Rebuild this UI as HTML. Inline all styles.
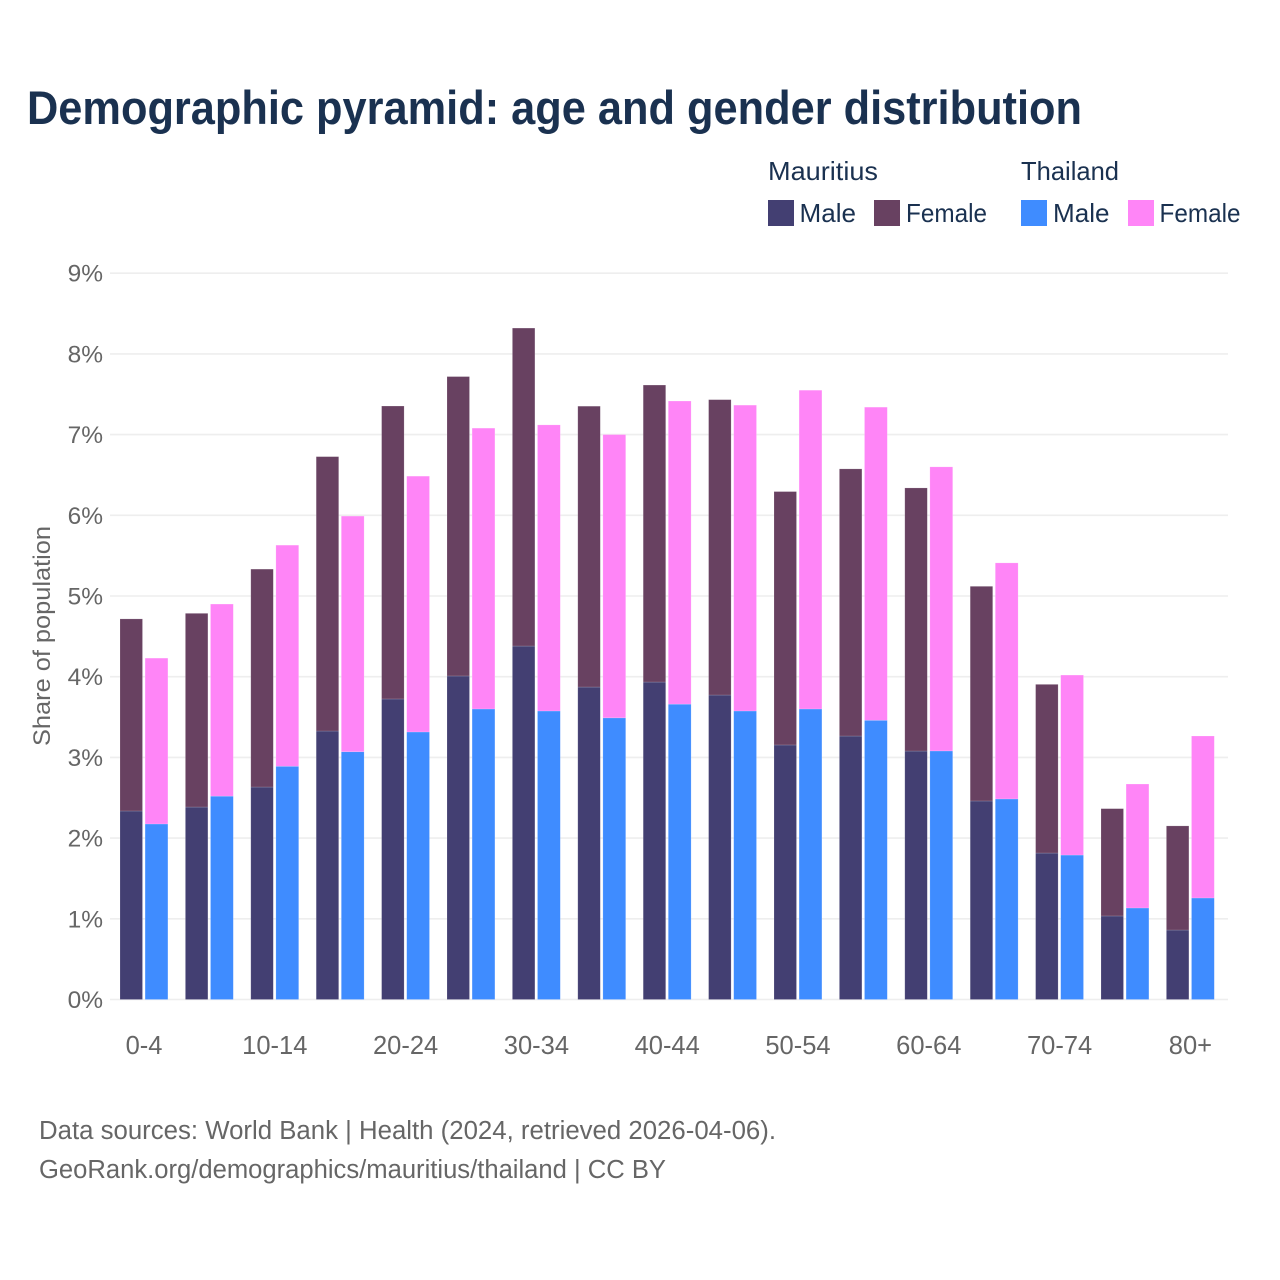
<!DOCTYPE html>
<html lang="en">
<head>
<meta charset="utf-8">
<title>Demographic pyramid: age and gender distribution</title>
<style>
html,body{margin:0;padding:0;background:#fff;width:1280px;height:1280px;overflow:hidden}
svg{display:block}
text{font-family:"Liberation Sans",sans-serif}
</style>
</head>
<body>
<svg id="chart" xmlns="http://www.w3.org/2000/svg" width="1280" height="1280" viewBox="0 0 1280 1280">
  <rect x="0" y="0" width="1280" height="1280" fill="#ffffff"/>
  <text x="27" y="124" font-size="47" font-weight="700" fill="#1a3150" textLength="1055" lengthAdjust="spacingAndGlyphs">Demographic pyramid: age and gender distribution</text>
  <g id="grid"></g>
  <g id="bars"></g>
  <g id="yticks"></g>
  <g id="xticks"></g>
  <text transform="translate(50,636) rotate(-90)" text-anchor="middle" font-size="24" fill="#666666" textLength="220" lengthAdjust="spacingAndGlyphs">Share of population</text>
  <g>
    <text x="768" y="180" font-size="26" fill="#1a3150" textLength="110" lengthAdjust="spacingAndGlyphs">Mauritius</text>
    <rect x="768" y="200" width="26" height="26" fill="#433f72"/>
    <text x="799.5" y="222" font-size="26" fill="#1a3150" textLength="56.5" lengthAdjust="spacingAndGlyphs">Male</text>
    <rect x="874" y="200" width="26" height="26" fill="#684161"/>
    <text x="906" y="222" font-size="26" fill="#1a3150" textLength="81" lengthAdjust="spacingAndGlyphs">Female</text>
    <text x="1021" y="180" font-size="26" fill="#1a3150" textLength="98" lengthAdjust="spacingAndGlyphs">Thailand</text>
    <rect x="1021" y="200" width="26" height="26" fill="#3f8cff"/>
    <text x="1053" y="222" font-size="26" fill="#1a3150" textLength="56.5" lengthAdjust="spacingAndGlyphs">Male</text>
    <rect x="1128" y="200" width="26" height="26" fill="#ff85f7"/>
    <text x="1159.5" y="222" font-size="26" fill="#1a3150" textLength="81" lengthAdjust="spacingAndGlyphs">Female</text>
  </g>
  <text x="39" y="1139" font-size="25.5" fill="#666666" textLength="737" lengthAdjust="spacingAndGlyphs">Data sources: World Bank | Health (2024, retrieved 2026-04-06).</text>
  <text x="39" y="1178" font-size="25.5" fill="#666666" textLength="627" lengthAdjust="spacingAndGlyphs">GeoRank.org/demographics/mauritius/thailand | CC BY</text>
</svg>
<script>
const ageGroups = ["0-4","5-9","10-14","15-19","20-24","25-29","30-34","35-39","40-44","45-49","50-54","55-59","60-64","65-69","70-74","75-79","80+"];
const mauritiusMale = [2.336,2.385,2.633,3.327,3.724,4.009,4.38,3.872,3.934,3.773,3.154,3.265,3.079,2.46,1.815,1.035,0.861];
const mauritiusFemale = [2.38,2.40,2.70,3.40,3.63,3.71,3.94,3.48,3.68,3.66,3.14,3.31,3.26,2.66,2.09,1.33,1.29];
const thailandMale = [2.175,2.52,2.89,3.07,3.315,3.60,3.575,3.49,3.66,3.575,3.60,3.46,3.08,2.485,1.79,1.134,1.258];
const thailandFemale = [2.055,2.38,2.74,2.92,3.17,3.48,3.545,3.51,3.756,3.79,3.95,3.88,3.52,2.925,2.23,1.536,2.007];
const yTickValues = [0,1,2,3,4,5,6,7,8,9];

const NS = "http://www.w3.org/2000/svg";
function yScale(v){ return 999.5 - v * 80.7; }
function xCenter(i){ return 144 + i * 65.4; }

function make(parent, tag, attrs){
  const el = document.createElementNS(NS, tag);
  for (const k in attrs) el.setAttribute(k, attrs[k]);
  parent.appendChild(el);
  return el;
}

const grid = document.getElementById("grid");
const yticks = document.getElementById("yticks");
const xticks = document.getElementById("xticks");
const bars = document.getElementById("bars");

yTickValues.forEach(function(t){
  const line = make(grid, "line", {x1:110, x2:1228, y1:yScale(t), y2:yScale(t), stroke:"#eeeeee", "stroke-width":1.6});
  
  
  const label = make(yticks, "text", {x:103, y:yScale(t)+8.5, "text-anchor":"end", "font-size":24.5, fill:"#666666"});
  label.textContent = t + "%";
  
  
});

function drawBar(x, w, base, value, color){
  const y0 = yScale(base);
  const y1 = yScale(base + value);
  const r = make(bars, "rect", {x:x, y:y1, width:w, height:y0 - y1, fill:color, stroke:"#ffffff", "stroke-opacity":0.25, "stroke-width":0.6});
  
  
}

ageGroups.forEach(function(name, i){
  const c = xCenter(i);
  drawBar(c - 24, 22.5, 0, mauritiusMale[i], "#433f72");
  drawBar(c - 24, 22.5, mauritiusMale[i], mauritiusFemale[i], "#684161");
  drawBar(c + 1.1, 22.8, 0, thailandMale[i], "#3f8cff");
  drawBar(c + 1.1, 22.8, thailandMale[i], thailandFemale[i], "#ff85f7");
  if (i % 2 === 0) {
    const label = make(xticks, "text", {x:c, y:1054, "text-anchor":"middle", "font-size":25.5, fill:"#666666"});
    label.textContent = name;
    
    
  }
});
</script>
</body>
</html>
